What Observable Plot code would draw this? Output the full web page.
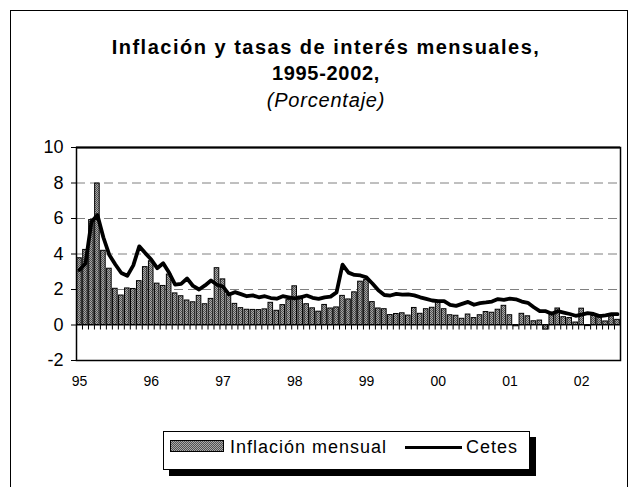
<!DOCTYPE html>
<html><head><meta charset="utf-8">
<script src="https://cdn.jsdelivr.net/npm/d3@7"></script>
<script src="https://cdn.jsdelivr.net/npm/@observablehq/plot@0.6"></script>
<style>
body{margin:0;background:#fff;font-family:"Liberation Sans",Arial,sans-serif;}
#wrap{position:relative;width:629px;height:487px;overflow:hidden;background:#fff;}
#frame{position:absolute;left:10px;top:10px;width:616px;height:540px;border:1px solid #000;}
.t{position:absolute;left:26px;width:600px;text-align:center;font-size:20px;line-height:27px;color:#000;white-space:nowrap;}
#t1{top:34px;font-weight:bold;letter-spacing:1.5px;}
#t2{top:60px;font-weight:bold;letter-spacing:0.7px;}
#t3{top:87px;font-style:italic;letter-spacing:0.8px;}
#legend{position:absolute;left:163px;top:431px;width:365px;height:37px;border:1px solid #000;box-shadow:6px 6px 0 #000;background:#fff;}
#sw{position:absolute;left:6px;top:8px;width:52px;height:10px;border:1px solid #000;background:repeating-conic-gradient(#505050 0 25%,#a8a8a8 0 50%) 0 0/2px 2px;}
.lt{position:absolute;top:6px;font-size:18px;line-height:18px;letter-spacing:1px;white-space:nowrap;}
#lt1{left:66px;}
#ln{position:absolute;left:241px;top:14px;width:57px;height:3px;background:#000;}
#lt2{left:302px;}
#wrap svg g[aria-label^="x-axis"] text{font-size:14px;}
#wrap svg g[aria-label^="y-axis"] text{font-size:18px;}
</style>
</head><body>
<div id="wrap">
  <div id="frame"></div>
  <div class="t" id="t1">Inflación y tasas de interés mensuales,</div>
  <div class="t" id="t2">1995-2002,</div>
  <div class="t" id="t3">(Porcentaje)</div>
  <div id="legend"><div id="sw"></div><div class="lt" id="lt1">Inflación mensual</div><div id="ln"></div><div class="lt" id="lt2">Cetes</div></div>
</div>
<script>
const yearLabels = ["95","96","97","98","99","00","01","02"];
const inflacion = [
  3.76, 4.23, 5.91, 7.97, 4.18, 3.17, 2.04, 1.66, 2.06, 2.03, 2.47, 3.26,
  3.59, 2.33, 2.20, 2.84, 1.78, 1.62, 1.38, 1.28, 1.64, 1.17, 1.47, 3.20,
  2.57, 1.68, 1.19, 0.95, 0.86, 0.85, 0.84, 0.88, 1.25, 0.80, 1.12, 1.40,
  2.18, 1.60, 1.17, 0.94, 0.75, 1.13, 0.93, 0.99, 1.64, 1.44, 1.84, 2.44,
  2.53, 1.29, 0.93, 0.89, 0.56, 0.62, 0.66, 0.53, 0.96, 0.63, 0.89, 0.97,
  1.34, 0.89, 0.55, 0.52, 0.35, 0.59, 0.39, 0.55, 0.73, 0.69, 0.86, 1.08,
  0.55, -0.07, 0.63, 0.49, 0.21, 0.25, -0.26, 0.59, 0.93, 0.44, 0.39, 0.14,
  0.92, -0.06, 0.51, 0.55, 0.20, 0.49, 0.29
];
const cetes = [
  3.10, 3.47, 5.80, 6.20, 4.93, 3.94, 3.41, 2.93, 2.77, 3.36, 4.43, 4.05,
  3.69, 3.20, 3.48, 2.94, 2.28, 2.32, 2.62, 2.20, 2.00, 2.23, 2.51, 2.27,
  2.16, 1.72, 1.85, 1.74, 1.62, 1.67, 1.56, 1.62, 1.52, 1.48, 1.62, 1.56,
  1.50, 1.56, 1.66, 1.53, 1.47, 1.56, 1.60, 1.84, 3.40, 2.95, 2.82, 2.79,
  2.68, 2.34, 1.96, 1.69, 1.66, 1.75, 1.71, 1.72, 1.67, 1.56, 1.47, 1.38,
  1.35, 1.35, 1.14, 1.08, 1.19, 1.30, 1.14, 1.23, 1.27, 1.32, 1.46, 1.42,
  1.49, 1.45, 1.32, 1.25, 1.00, 0.78, 0.78, 0.63, 0.78, 0.70, 0.62, 0.52,
  0.58, 0.67, 0.62, 0.50, 0.54, 0.61, 0.61
];
const yTicks = [-2, 0, 2, 4, 6, 8, 10];
const gridValues = [2, 4, 6, 8];

const n = inflacion.length;
const data = d3.range(n).map(i => ({i, i1: i + 1, xc: i + 0.5, inf: inflacion[i], cet: cetes[i]}));
const boundaries = d3.range(n + 1);
const yearTicks = yearLabels.map((_, k) => k * 12 + 0.5);

const svg = Plot.plot({
  width: 629, height: 260,
  marginLeft: 76, marginRight: 9, marginTop: 17, marginBottom: 30,
  style: {fontFamily: '"Liberation Sans", Arial, sans-serif', fontSize: "16px", background: "transparent", color: "#000", overflow: "visible"},
  x: {domain: [0, n], ticks: yearTicks, tickFormat: d => yearLabels[Math.round((d - 0.5) / 12)], tickSize: 0, tickPadding: 16, label: null},
  y: {domain: [-2, 10], ticks: yTicks, tickFormat: d => String(d), tickSize: 5, tickPadding: 8, label: null},
  marks: [
    Plot.ruleY(gridValues, {stroke: "#808080", strokeWidth: 1, strokeDasharray: "9,5"}),
    Plot.rect(data, {x1: "i", x2: "i1", y1: 0, y2: "inf", fill: "#7a7a7a", stroke: "#000", strokeWidth: 1, insetLeft: 0.7, insetRight: 0.7}),
    Plot.ruleY([0], {stroke: "#000", strokeWidth: 1.2}),
    Plot.ruleX(boundaries, {x: d => d, y1: 0, y2: 0, insetBottom: -5, stroke: "#000", strokeWidth: 1}),
    Plot.line(data, {x: "xc", y: "cet", stroke: "#000", strokeWidth: 3.8, strokeLinejoin: "round"}),
    Plot.ruleY([10], {stroke: "#000", strokeWidth: 2}),
    Plot.frame({stroke: "#000", strokeWidth: 1.5})
  ]
});
const ns = "http://www.w3.org/2000/svg";
const defs = document.createElementNS(ns, "defs");
defs.innerHTML = '<pattern id="hatch" width="2" height="2" patternUnits="userSpaceOnUse"><rect width="2" height="2" fill="#a8a8a8"/><rect width="1" height="1" fill="#505050"/><rect x="1" y="1" width="1" height="1" fill="#505050"/></pattern>';
svg.insertBefore(defs, svg.firstChild);
svg.querySelectorAll('g[aria-label="rect"]').forEach(g => g.setAttribute("fill", "url(#hatch)"));
svg.style.position = "absolute";
svg.style.left = "0px";
svg.style.top = "130px";
document.getElementById("wrap").appendChild(svg);
</script>
</body></html>
